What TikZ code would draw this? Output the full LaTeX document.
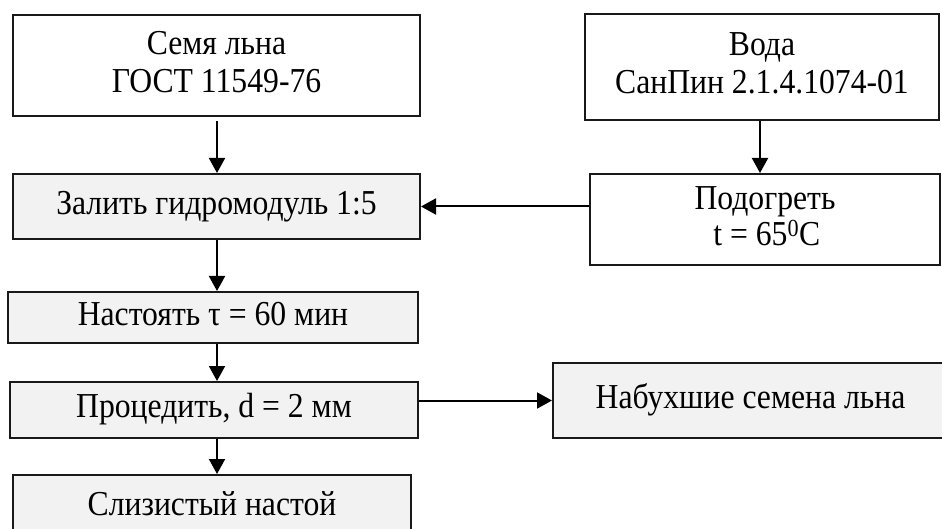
\documentclass[tikz,border=0pt]{standalone}
\usepackage{fontspec}
\usepackage{graphicx}
\setmainfont{Liberation Serif}
\usetikzlibrary{arrows.meta,calc}
\definecolor{boxgrey}{HTML}{F2F2F2}
% slightly narrowed lettering: set large, then squeeze horizontally
\newcommand{\sqtext}[2][0pt]{\raisebox{#1}{\scalebox{0.905}[1]{\begin{tabular}{@{}c@{}}#2\end{tabular}}}}
\tikzset{
  whitebox/.style={draw=black!90, line width=2pt, fill=white, inner sep=0pt,
    align=center, font=\fontsize{35}{38}\selectfont},
  greybox/.style={whitebox, fill=boxgrey},
  label/.style={inner sep=0pt, font=\fontsize{35}{38}\selectfont},
  arr/.style={line width=2pt, -{Triangle[length=15pt,width=16pt]}}
}
\begin{document}
\begin{tikzpicture}[x=1pt,y=-1pt]
  \useasboundingbox (0,0) rectangle (942,529);
  \clip (0,0) rectangle (942,529);
  \coordinate (trunk) at (217,0);
  \coordinate (wtrunk) at (760,0);

  % source boxes
  \node[whitebox, minimum width=407pt, minimum height=101pt] (seed) at (216.5,65.5)
    {\sqtext[-5pt]{Семя льна\\ГОСТ 11549-76}};
  \node[whitebox, minimum width=354pt, minimum height=106pt] (water) at (762,67)
    {\sqtext[-2.5pt]{Вода\\СанПин 2.1.4.1074-01}};

  % process steps
  \node[greybox, minimum width=407pt, minimum height=65pt] (pour) at (216.5,206.5)
    {\sqtext[-8pt]{Залить гидромодуль 1:5}};
  \node[whitebox, minimum width=350pt, minimum height=91pt] (heat) at (765,219.5)
    {\sqtext[-9pt]{Подогреть\\[-2pt]\hspace*{4pt}t = 65\textsuperscript{0}C}};
  \node[greybox, minimum width=410pt, minimum height=51pt] (steep) at (213,317.5)
    {\sqtext[-7pt]{Настоять τ = 60 мин}};
  \node[greybox, minimum width=408pt, minimum height=56pt] (strain) at (214,410)
    {\sqtext[-4pt]{Процедить, d = 2 мм}};
  \node[greybox, minimum width=395pt, minimum height=75pt] (swollen) at (750.5,400.5)
    {\sqtext[-5pt]{Набухшие семена льна}};
  \node[greybox, minimum width=398pt, minimum height=70pt, anchor=north] (mucus) at (212,474) {};
  \node[label] (mucustext) at (212,507.4) {\sqtext{Слизистый настой}};

  % connectors
  \draw[arr] ([yshift=-4pt]seed.south -| trunk) -- (pour.north -| trunk);
  \draw[arr] (water.south -| wtrunk) -- (heat.north -| wtrunk);
  \draw[arr] (heat.west |- pour.east) -- (pour.east);
  \draw[arr] (pour.south -| trunk) -- (steep.north -| trunk);
  \draw[arr] (steep.south -| trunk) -- (strain.north -| trunk);
  \draw[arr] (strain.south -| trunk) -- (mucus.north -| trunk);
  \draw[arr] (strain.east |- swollen.west) -- (swollen.west);
\end{tikzpicture}
\end{document}
